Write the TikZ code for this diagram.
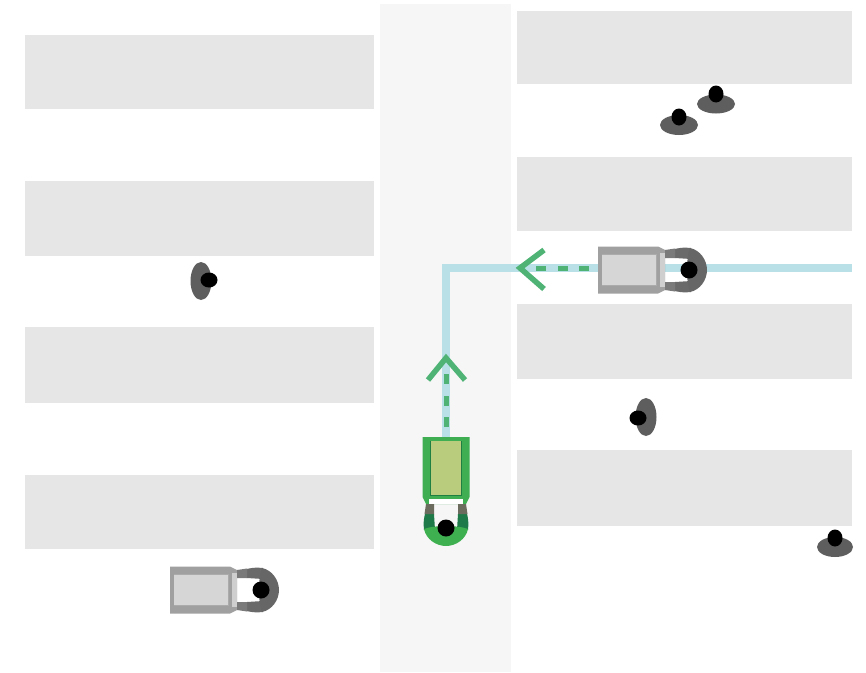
\documentclass[tikz,border=0pt]{standalone}
\definecolor{shelfc}{HTML}{E6E6E6}
\definecolor{aislec}{HTML}{F6F6F6}
\definecolor{routec}{HTML}{B8E0E6}
\definecolor{arrowc}{HTML}{4FB376}
\definecolor{bodyc}{HTML}{5E5E5E}
\definecolor{gframe}{HTML}{A0A0A0}
\definecolor{gedge}{HTML}{ABABAB}
\definecolor{gbasket}{HTML}{D6D6D6}
\definecolor{gbody}{HTML}{666666}
\definecolor{garm}{HTML}{6A6A6A}
\definecolor{ghand}{HTML}{7A7A7A}
\definecolor{gbar}{HTML}{CFCFCF}
\definecolor{tframe}{HTML}{3FAE52}
\definecolor{tedge}{HTML}{1F7F42}
\definecolor{tbasket}{HTML}{B9CB7C}
\definecolor{tbody}{HTML}{3FB050}
\definecolor{tarm}{HTML}{1E7A48}
\definecolor{thand}{HTML}{6B6B5E}
\tikzset{
  x=1pt,y=-1pt,
  shelf/.style={fill=shelfc,draw=none},
  route/.style={draw=routec,line width=7.5pt},
  dashline/.style={draw=arrowc,line width=5pt,dash pattern=on 10pt off 11.5pt},
  chevron/.style={draw=arrowc,line width=5.5pt,line join=miter},
  shopperbody/.style={fill=bodyc,draw=none},
  shopperhead/.style={fill=black,draw=none},
  pics/trolley/.style n args={7}{code={
    % #1 frame, #2 inner edge, #3 basket, #4 body, #5 arm, #6 hand, #7 handle bar
    \fill[#1] (-23.5,-91) -- (23.5,-91) -- (23.5,-31) -- (20,-24) -- (-20,-24) -- (-23.5,-31) -- cycle;
    \fill[#7] (-17,-29) rectangle (17,-24);
    \fill[#3] (-15.5,-87) rectangle (15.5,-33);
    \draw[#2,line width=1.2pt] (-15.5,-87) -- (-15.5,-32.5) -- (15.5,-32.5) -- (15.5,-87);
    % arms and shoulders
    \fill[#5] (-19,-22) .. controls (-22,-12) and (-23,-5) .. (-22,2)
      -- (-11,2) -- (-12,-14) -- (-13,-22) -- cycle;
    \fill[#5] (19,-22) .. controls (22,-12) and (23,-5) .. (22,2)
      -- (11,2) -- (12,-14) -- (13,-22) -- cycle;
    \fill[#6] (-20,-24) -- (-12,-24) -- (-12,-14) -- (-21.5,-14) -- cycle;
    \fill[#6] (20,-24) -- (12,-24) -- (12,-14) -- (21.5,-14) -- cycle;
    % back
    \fill[#4] (-22,1) .. controls (-20,11) and (-10,18) .. (0,18)
      .. controls (10,18) and (20,11) .. (22,1)
      .. controls (12,-3) and (-12,-3) .. (-22,1) -- cycle;
    \fill[black] (0,0) circle (8.5);
  }},
}
\begin{document}
\begin{tikzpicture}
\useasboundingbox (0,0) rectangle (866,672);
\fill[white] (0,0) rectangle (866,672);
\fill[aislec] (380,4) rectangle (511,672);
% left shelves
\fill[shelf] (25,35) rectangle (374,109);
\fill[shelf] (25,181) rectangle (374,256);
\fill[shelf] (25,327) rectangle (374,403);
\fill[shelf] (25,475) rectangle (374,549);
% right shelves
\fill[shelf] (517,11) rectangle (852,84);
\fill[shelf] (517,157) rectangle (852,231);
\fill[shelf] (517,304) rectangle (852,379);
\fill[shelf] (517,450) rectangle (852,526);
% route
\coordinate (routeA) at (446,440);
\coordinate (routeB) at (446,268);
\coordinate (routeC) at (852,268);
\draw[route] (routeA) -- (routeB) -- (routeC);
% dashes and chevrons
\coordinate (dashA) at (446,427);
\coordinate (dashAend) at (446,372);
\coordinate (tipA) at (446,358);
\draw[dashline] (dashA) -- (dashAend);
\draw[chevron] (428,380) -- (tipA) -- (465,380);
\coordinate (dashB) at (589,268);
\coordinate (dashBend) at (536,268);
\coordinate (tipB) at (520,268);
\draw[dashline] (dashB) -- (dashBend);
\draw[chevron] (544,250) -- (tipB) -- (544,289);
% trolleys
\pic[shift={(446,528)}] {trolley={tframe}{tedge}{tbasket}{tbody}{tarm}{thand}{white}};
\pic[shift={(689,270)},rotate=90] {trolley={gframe}{gedge}{gbasket}{gbody}{garm}{ghand}{gbar}};
\pic[shift={(261,590)},rotate=90] {trolley={gframe}{gedge}{gbasket}{gbody}{garm}{ghand}{gbar}};
% shoppers
\fill[shopperbody] (716,104) ellipse [x radius=19,y radius=9.5];
\fill[shopperhead] (716,94) ellipse [x radius=7.5,y radius=8.5];
\fill[shopperbody] (679,125) ellipse [x radius=19,y radius=10];
\fill[shopperhead] (679,117) ellipse [x radius=7.5,y radius=8.5];
\fill[shopperbody] (835,547) ellipse [x radius=18,y radius=10];
\fill[shopperhead] (835,538) ellipse [x radius=7.5,y radius=8.5];
\fill[shopperbody] (201,281) ellipse [x radius=10.5,y radius=19];
\fill[shopperhead] (209,280) ellipse [x radius=8.5,y radius=7.5];
\fill[shopperbody] (646,417) ellipse [x radius=10.5,y radius=19];
\fill[shopperhead] (638,418) ellipse [x radius=8.5,y radius=7.5];
\end{tikzpicture}
\end{document}
